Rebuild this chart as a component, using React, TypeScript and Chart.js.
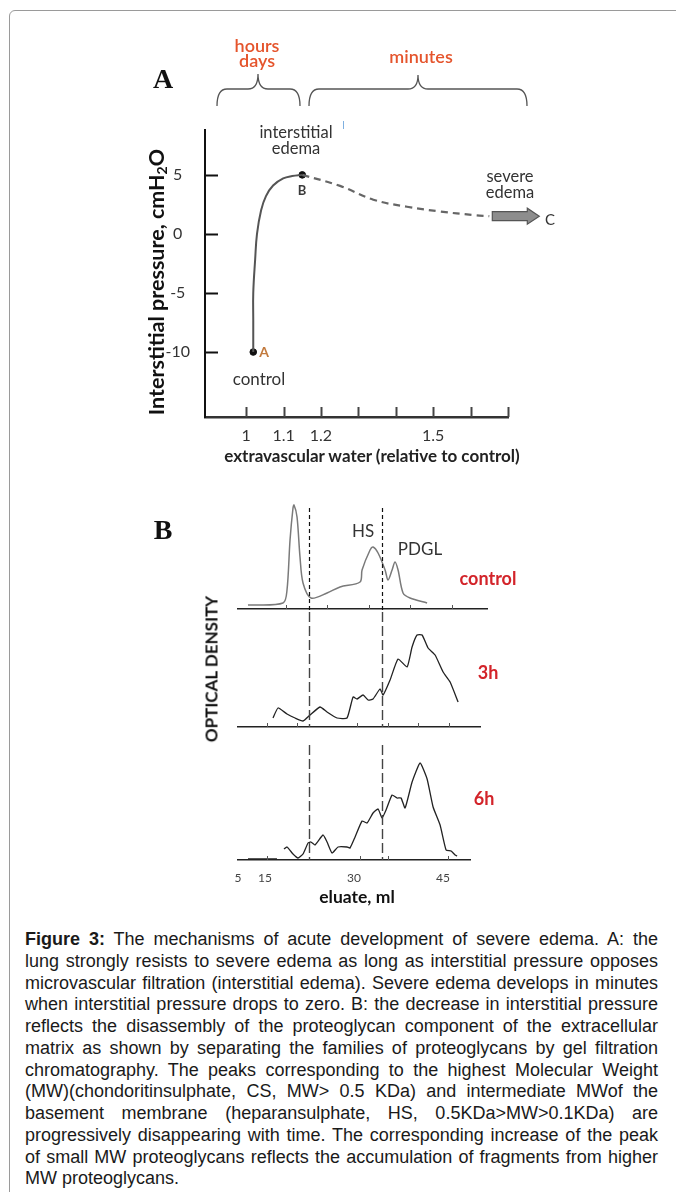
import React, { useEffect, useRef } from 'react';
import { Chart, registerables } from 'chart.js';
Chart.register(...registerables);

// ---------------- Panel A data ----------------
const riseX = [1.019, 1.019, 1.019, 1.024, 1.029, 1.04, 1.053, 1.072, 1.099, 1.123, 1.15];
const riseY = [-10, -7.3, -5, -2.2, 0, 2.0, 3.2, 4.1, 4.7, 4.9, 5.0];
const fallX = [1.15, 1.251, 1.34, 1.43, 1.519, 1.607, 1.65];
const fallY = [5.0, 4.07, 2.9, 2.3, 1.9, 1.6, 1.5];
const markX = [1.019, 1.15];
const markY = [-10, 5];
const waterTicks = [1.0, 1.1, 1.2, 1.3, 1.4, 1.5, 1.6, 1.7];
const waterTickLabels = ['1', '1.1', '1.2', '', '', '1.5', '', ''];
const pressureTicks = [5, 0, -5, -10];
const pressureTickLabels = ['5', '0', '-5', '-10'];

// ---------------- Panel B data (eluate ml, optical density a.u.) ----------------
const controlX = [12.13, 18.04, 18.71, 19.22, 19.72, 19.89, 20.4, 20.9, 21.41, 22.76, 25.46, 27.65, 31.02, 31.36, 32.71, 33.21, 34.06, 35.24, 35.74, 36.42, 36.92, 37.43, 38.27, 39.45, 42.32];
const controlY = [0.04, 0.06, 0.19, 0.69, 1.01, 1.04, 0.92, 0.52, 0.26, 0.11, 0.16, 0.22, 0.27, 0.39, 0.59, 0.62, 0.56, 0.39, 0.29, 0.39, 0.47, 0.39, 0.16, 0.11, 0.06];
const h3X = [16.35, 17.19, 18.71, 20.06, 21.41, 22.59, 24.27, 25.46, 27.14, 28.83, 29.84, 30.51, 31.53, 32.37, 33.21, 34.39, 34.9, 36.08, 37.43, 38.95, 39.79, 40.63, 41.48, 42.49, 43.67, 45.02, 46.2, 47.55];
const h3Y = [0.09, 0.19, 0.13, 0.09, 0.06, 0.12, 0.2, 0.15, 0.09, 0.09, 0.3, 0.28, 0.32, 0.27, 0.28, 0.38, 0.32, 0.47, 0.68, 0.6, 0.8, 0.92, 0.92, 0.79, 0.72, 0.55, 0.45, 0.25];
const h6X = [12.13, 17.02, 17.6, 18.2, 18.71, 19.72, 20.56, 21.41, 22.25, 22.76, 23.43, 24.78, 25.46, 26.3, 27.31, 28.83, 29.33, 30.18, 31.36, 32.2, 33.21, 34.06, 34.73, 35.4, 36.42, 37.26, 37.93, 38.61, 39.79, 41.14, 42.32, 43.33, 44.51, 45.52, 46.37, 47.04, 47.38];
const h6Y = [0.01, 0.01, null, 0.11, 0.13, 0.06, 0.02, 0.06, 0.17, 0.18, 0.15, 0.25, 0.18, 0.07, 0.13, 0.13, 0.12, 0.23, 0.39, 0.37, 0.47, 0.51, 0.42, 0.5, 0.65, 0.62, 0.62, 0.52, 0.78, 0.97, 0.81, 0.53, 0.35, 0.1, 0.09, 0.05, 0.04];
const bandEdges = [22.5, 34.8];
const eluateTicks = [10.45, 15, 30, 45];
const eluateTickLabels = ['5', '15', '30', '45'];
const controlMarks = [18.5, 25.5, 32.5, 39.5, 46.5];
const h3Marks = [15.3, 20.4, 30.5, 35.7, 40.8, 46.0];
const h6Marks = [15.3, 31.0, 35.7, 45.8];

const captionLines = [
  'The mechanisms of acute development of severe edema. A: the',
  'lung strongly resists to severe edema as long as interstitial pressure opposes',
  'microvascular filtration (interstitial edema). Severe edema develops in minutes',
  'when interstitial pressure drops to zero. B: the decrease in interstitial pressure',
  'reflects the disassembly of the proteoglycan component of the extracellular',
  'matrix as shown by separating the families of proteoglycans by gel filtration',
  'chromatography. The peaks corresponding to the highest Molecular Weight',
  '(MW)(chondoritinsulphate, CS, MW> 0.5 KDa) and intermediate MWof the',
  'basement membrane (heparansulphate, HS, 0.5KDa>MW>0.1KDa) are',
  'progressively disappearing with time. The corresponding increase of the peak',
  'of small MW proteoglycans reflects the accumulation of fragments from higher',
  'MW proteoglycans.',
];

const pts = (xs: number[], ys: (number | null)[]) => xs.map((x, i) => ({ x, y: ys[i] }));

// canvas A placement on the page
const A_LEFT = 130;
const A_TOP = 20;

function brace(ctx: CanvasRenderingContext2D, x0: number, x1: number, tip: number, yEnd: number, yH: number, yTip: number) {
  const r = 10;
  ctx.beginPath();
  ctx.moveTo(x0, yEnd);
  ctx.quadraticCurveTo(x0, yH, x0 + r, yH);
  ctx.lineTo(tip - r, yH);
  ctx.quadraticCurveTo(tip, yH, tip, yTip);
  ctx.quadraticCurveTo(tip, yH, tip + r, yH);
  ctx.lineTo(x1 - r, yH);
  ctx.quadraticCurveTo(x1, yH, x1, yEnd);
  ctx.stroke();
}

const decorA = {
  id: 'decorA',
  afterDraw(chart: any) {
    const { ctx, chartArea, scales } = chart;
    const xs = scales.x;
    const ys = scales.y;
    ctx.save();
    ctx.strokeStyle = '#111';
    ctx.lineWidth = 2;
    pressureTicks.forEach((v) => {
      const y = Math.round(ys.getPixelForValue(v)) + 0.5;
      ctx.beginPath();
      ctx.moveTo(chartArea.left, y);
      ctx.lineTo(chartArea.left + 13, y);
      ctx.stroke();
    });
    ctx.strokeStyle = '#444';
    waterTicks.forEach((v) => {
      const x = Math.round(xs.getPixelForValue(v)) + 0.5;
      ctx.beginPath();
      ctx.moveTo(x, chartArea.bottom);
      ctx.lineTo(x, chartArea.bottom - 10);
      ctx.stroke();
    });
    ctx.strokeStyle = '#555';
    ctx.lineWidth = 1.3;
    brace(ctx, 217 - A_LEFT, 300 - A_LEFT, 258 - A_LEFT, 106 - A_TOP, 89 - A_TOP, 74 - A_TOP);
    brace(ctx, 309 - A_LEFT, 527 - A_LEFT, 418 - A_LEFT, 106 - A_TOP, 89 - A_TOP, 75 - A_TOP);
    const ax = xs.getPixelForValue(fallX[fallX.length - 1]) + 3;
    const ay = ys.getPixelForValue(fallY[fallY.length - 1]);
    ctx.beginPath();
    ctx.moveTo(ax, ay - 4.5);
    ctx.lineTo(ax + 35, ay - 4.5);
    ctx.lineTo(ax + 35, ay - 8);
    ctx.lineTo(ax + 47, ay);
    ctx.lineTo(ax + 35, ay + 8);
    ctx.lineTo(ax + 35, ay + 4.5);
    ctx.lineTo(ax, ay + 4.5);
    ctx.closePath();
    ctx.fillStyle = '#8d8d8d';
    ctx.fill();
    ctx.strokeStyle = '#555';
    ctx.lineWidth = 1.2;
    ctx.stroke();
    ctx.restore();
  },
};

function PanelA() {
  const ref = useRef<HTMLCanvasElement>(null);
  useEffect(() => {
    const chart = new Chart(ref.current as HTMLCanvasElement, {
      type: 'scatter',
      data: {
        datasets: [
          { data: pts(riseX, riseY), showLine: true, borderColor: '#555', borderWidth: 2, tension: 0.4, pointRadius: 0 },
          { data: pts(fallX, fallY), showLine: true, borderColor: '#666', borderWidth: 2.2, borderDash: [7, 5], tension: 0.4, pointRadius: 0 },
          { data: pts(markX, markY), showLine: false, pointRadius: 3.3, backgroundColor: '#111', borderColor: '#111' },
        ],
      },
      options: {
        responsive: false,
        animation: false,
        layout: { padding: { left: 0, top: 110, right: 62, bottom: 0 } },
        plugins: { legend: { display: false }, tooltip: { enabled: false } },
        scales: {
          x: {
            type: 'linear',
            min: 0.89,
            max: 1.7,
            afterBuildTicks: (s: any) => { s.ticks = waterTicks.map((v) => ({ value: v })); },
            afterFit: (s: any) => { s.height = 53; },
            ticks: { autoSkip: false, maxRotation: 0, padding: 9, color: '#333', font: { family: 'Lato', size: 16 }, callback: (_v: any, i: number) => waterTickLabels[i] },
            grid: { display: false, drawTicks: false },
            border: { display: true, color: '#333', width: 2.5 },
          },
          y: {
            type: 'linear',
            min: -15.5,
            max: 8.8,
            afterBuildTicks: (s: any) => { s.ticks = pressureTicks.map((v) => ({ value: v })); },
            afterFit: (s: any) => { s.width = 75; },
            ticks: { autoSkip: false, crossAlign: 'center', padding: 15, color: '#333', font: { family: 'Lato', size: 16 }, callback: (_v: any, i: number) => pressureTickLabels[i] },
            grid: { display: false, drawTicks: false },
            border: { display: true, color: '#111', width: 2 },
          },
        },
      },
      plugins: [decorA],
    } as any);
    return () => chart.destroy();
  }, []);
  return <canvas ref={ref} width={440} height={450} style={{ position: 'absolute', left: A_LEFT, top: A_TOP, width: 440, height: 450 }} />;
}

type BProps = {
  xs: number[]; ys: (number | null)[]; marks: number[];
  left: number; top: number; w: number; h: number; padRight: number; axisH: number; xMax: number; yMax: number;
  showTicks: boolean; color: string; lw: number; tension: number;
  dashFrom: number; dashTo: number; dash: number[]; dashColor: string; dashW: number;
};

function PanelB(p: BProps) {
  const ref = useRef<HTMLCanvasElement>(null);
  useEffect(() => {
    const decor = {
      id: 'decorB',
      afterDraw(chart: any) {
        const { ctx, chartArea, scales } = chart;
        const xs = scales.x;
        ctx.save();
        ctx.strokeStyle = p.dashColor;
        ctx.lineWidth = p.dashW;
        ctx.setLineDash(p.dash);
        bandEdges.forEach((v) => {
          const x = Math.round(xs.getPixelForValue(v)) + 0.5;
          ctx.beginPath();
          ctx.moveTo(x, p.dashFrom);
          ctx.lineTo(x, p.dashTo);
          ctx.stroke();
        });
        ctx.setLineDash([]);
        ctx.strokeStyle = '#555';
        ctx.lineWidth = 1;
        p.marks.forEach((v) => {
          const x = Math.round(xs.getPixelForValue(v)) + 0.5;
          ctx.beginPath();
          ctx.moveTo(x, chartArea.bottom);
          ctx.lineTo(x, chartArea.bottom - 4);
          ctx.stroke();
        });
        ctx.restore();
      },
    };
    const chart = new Chart(ref.current as HTMLCanvasElement, {
      type: 'scatter',
      data: {
        datasets: [
          { data: pts(p.xs, p.ys), showLine: true, spanGaps: false, borderColor: p.color, borderWidth: p.lw, tension: p.tension, pointRadius: 0 },
        ],
      },
      options: {
        responsive: false,
        animation: false,
        layout: { padding: { left: 18, top: 0, right: p.padRight, bottom: 0 } },
        plugins: { legend: { display: false }, tooltip: { enabled: false } },
        scales: {
          x: {
            type: 'linear',
            min: 10.45,
            max: p.xMax,
            afterBuildTicks: (s: any) => { s.ticks = eluateTicks.map((v) => ({ value: v })); },
            afterFit: (s: any) => { s.height = p.axisH; },
            ticks: { display: p.showTicks, autoSkip: false, maxRotation: 0, padding: 11, color: '#444', font: { family: 'Lato', size: 12 }, callback: (_v: any, i: number) => eluateTickLabels[i] },
            grid: { display: false, drawTicks: false },
            border: { display: true, color: '#222', width: 1.6 },
          },
          y: { display: false, min: 0, max: p.yMax },
        },
      },
      plugins: [decor],
    } as any);
    return () => chart.destroy();
  }, []);
  return <canvas ref={ref} width={p.w} height={p.h} style={{ position: 'absolute', left: p.left, top: p.top, width: p.w, height: p.h }} />;
}

const T = ({ x, y, children, style, rot }: any) => (
  <div
    style={{
      position: 'absolute', left: x, top: y, whiteSpace: 'nowrap', lineHeight: 1,
      transform: `translate(-50%,-50%)${rot ? ' rotate(-90deg)' : ''}`,
      fontFamily: 'Lato', color: '#333', ...style,
    }}
  >
    {children}
  </div>
);

const ORANGE = '#e5542c';
const RED = '#d3242a';

export default function App() {
  return (
    <div style={{ position: 'fixed', left: 0, top: 0, width: 676, height: 1192, overflow: 'hidden', background: '#fff' }}>
      <div style={{ position: 'absolute', left: 9, top: 10, width: 720, height: 1300, border: '1.5px solid #9a9a9a', borderRadius: 6, boxSizing: 'border-box' }} />

      {/* Panel A */}
      <PanelA />
      <T x={163} y={79} style={{ fontFamily: '"Liberation Serif", serif', fontWeight: 700, fontSize: 28, color: '#111' }}>A</T>
      <T x={257} y={45} style={{ color: ORANGE, fontWeight: 600, fontSize: 18 }}>hours</T>
      <T x={257} y={60} style={{ color: ORANGE, fontWeight: 600, fontSize: 18 }}>days</T>
      <T x={421} y={56} style={{ color: ORANGE, fontWeight: 600, fontSize: 18 }}>minutes</T>
      <T x={296} y={132} style={{ fontSize: 16.5 }}>interstitial</T>
      <T x={296} y={148} style={{ fontSize: 16.5 }}>edema</T>
      <div style={{ position: 'absolute', left: 343, top: 121, width: 1, height: 8, background: '#7fb0e0' }} />
      <T x={510} y={176} style={{ fontSize: 16.5 }}>severe</T>
      <T x={510} y={192} style={{ fontSize: 16.5 }}>edema</T>
      <T x={550} y={219} style={{ fontSize: 15 }}>C</T>
      <T x={264} y={352} style={{ fontSize: 14, fontWeight: 700, color: '#c27a3e' }}>A</T>
      <T x={302} y={190} style={{ fontSize: 13, fontWeight: 700, color: '#3a3a3a' }}>B</T>
      <T x={259} y={378} style={{ fontSize: 17 }}>control</T>
      <T x={157} y={282} rot style={{ fontSize: 21.5, fontWeight: 700, color: '#111' }}>
        Interstitial pressure, cmH<sub style={{ fontSize: 14, verticalAlign: -3, lineHeight: 0 }}>2</sub>O
      </T>
      <T x={372} y={455} style={{ fontSize: 17, fontWeight: 700, color: '#222' }}>extravascular water (relative to control)</T>

      {/* Panel B */}
      <T x={163} y={530} style={{ fontFamily: '"Liberation Serif", serif', fontWeight: 700, fontSize: 28, color: '#111' }}>B</T>
      <PanelB xs={controlX} ys={controlY} marks={controlMarks} left={220} top={500} w={290} h={112} padRight={23} axisH={3} xMax={52.42} yMax={1.09}
        showTicks={false} color="#7a7a7a" lw={1.5} tension={0.3} dashFrom={8} dashTo={112} dash={[4, 3]} dashColor="#111" dashW={1.2} />
      <PanelB xs={h3X} ys={h3Y} marks={h3Marks} left={220} top={612} w={290} h={118} padRight={30} axisH={3} xMax={51.24} yMax={1.15}
        showTicks={false} color="#222" lw={1.3} tension={0.15} dashFrom={0} dashTo={115} dash={[10, 4]} dashColor="#444" dashW={1.4} />
      <PanelB xs={h6X} ys={h6Y} marks={h6Marks} left={220} top={730} w={290} h={160} padRight={40} axisH={30} xMax={49.55} yMax={1.3}
        showTicks={true} color="#222" lw={1.3} tension={0.15} dashFrom={15} dashTo={130} dash={[10, 4]} dashColor="#444" dashW={1.4} />
      <T x={363} y={530} style={{ fontSize: 17 }}>HS</T>
      <T x={420} y={548} style={{ fontSize: 17 }}>PDGL</T>
      <T x={488} y={578} style={{ fontSize: 18, fontWeight: 700, color: RED }}>control</T>
      <T x={488} y={672} style={{ fontSize: 18, fontWeight: 700, color: RED }}>3h</T>
      <T x={484} y={798} style={{ fontSize: 18, fontWeight: 700, color: RED }}>6h</T>
      <T x={211} y={669} rot style={{ fontSize: 17, fontWeight: 700, color: '#111' }}>OPTICAL DENSITY</T>
      <T x={357} y={897} style={{ fontSize: 17.5, fontWeight: 700, color: '#111' }}>eluate, ml</T>

      {/* Caption */}
      <div style={{ position: 'absolute', left: 25, top: 929, width: 633, fontFamily: '"Liberation Sans", Arial, sans-serif', fontSize: 18, lineHeight: '21.75px', color: '#1a1a1a' }}>
        {captionLines.map((line, i) => (
          <div key={i} style={{ textAlign: i < captionLines.length - 1 ? 'justify' : 'left', textAlignLast: i < captionLines.length - 1 ? 'justify' : 'left', whiteSpace: 'nowrap', height: 21.75 } as any}>
            {i === 0 ? <><b>Figure 3:</b> {line}</> : line}
          </div>
        ))}
      </div>
    </div>
  );
}
